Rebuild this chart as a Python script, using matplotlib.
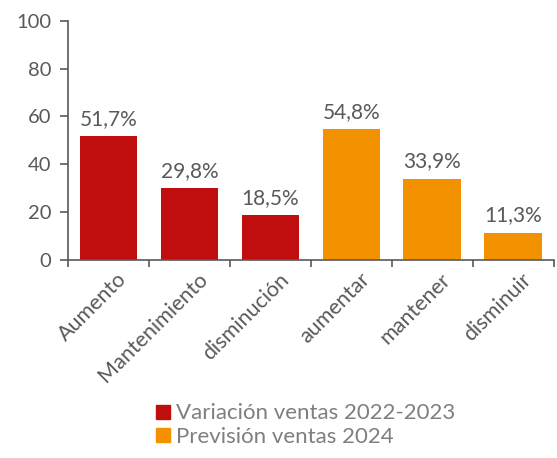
import numpy as np
import matplotlib.pyplot as plt
from matplotlib.patches import Patch

categorias = ["Aumento", "Mantenimiento", "disminución", "aumentar", "mantener", "disminuir"]
valores = [51.7, 29.8, 18.5, 54.8, 33.9, 11.3]
etiquetas = ["51,7%", "29,8%", "18,5%", "54,8%", "33,9%", "11,3%"]
series = ["Variación ventas 2022-2023", "Previsión ventas 2024"]
grupo = [0, 0, 0, 1, 1, 1]

rojo = "#C00D0D"
naranja = "#F39200"
colores_serie = [rojo, naranja]
gris = "#595959"

plt.rcParams['font.family'] = ['Lato', 'DejaVu Sans']

fig = plt.figure(figsize=(5.57, 4.58), dpi=100)
ax = fig.add_axes([0.122, 0.4334, 0.872, 0.5206])

x = np.arange(len(categorias))
colores = [colores_serie[g] for g in grupo]
ax.bar(x, valores, width=0.71, color=colores, edgecolor="none")

for xi, v, t in zip(x, valores, etiquetas):
    ax.text(xi, v + 3, t, ha="center", va="bottom", fontsize=15, color=gris)

ax.set_xlim(-0.5, len(categorias) - 0.5)
ax.set_ylim(0, 100)
ax.set_yticks(np.arange(0, 101, 20))
ax.tick_params(axis="y", labelsize=14.5, labelcolor=gris, color=gris, length=6, width=1.2, pad=6)

ax.set_xticks(np.arange(-0.5, len(categorias)))
ax.set_xticklabels([])
ax.tick_params(axis="x", which="major", color=gris, length=5, width=1.2)
ax.set_xticks(x + 0.1, minor=True)
ax.set_xticklabels(categorias, minor=True, rotation=45, ha="right",
                   rotation_mode="anchor", fontsize=15.5, color=gris)
ax.tick_params(axis="x", which="minor", length=0, pad=7)

for s in ["top", "right"]:
    ax.spines[s].set_visible(False)
for s in ["left", "bottom"]:
    ax.spines[s].set_color(gris)
    ax.spines[s].set_linewidth(1.2)

handles = [Patch(color=c, label=l) for c, l in zip(colores_serie, series)]
fig.legend(handles=handles, loc="lower left", bbox_to_anchor=(0.265, 0.005),
           frameon=False, fontsize=16, labelcolor="#7F7F7F",
           handlelength=0.6, handleheight=0.6, handletextpad=0.3,
           labelspacing=0.15, borderaxespad=0)

fig.savefig("out.png", dpi=100)
